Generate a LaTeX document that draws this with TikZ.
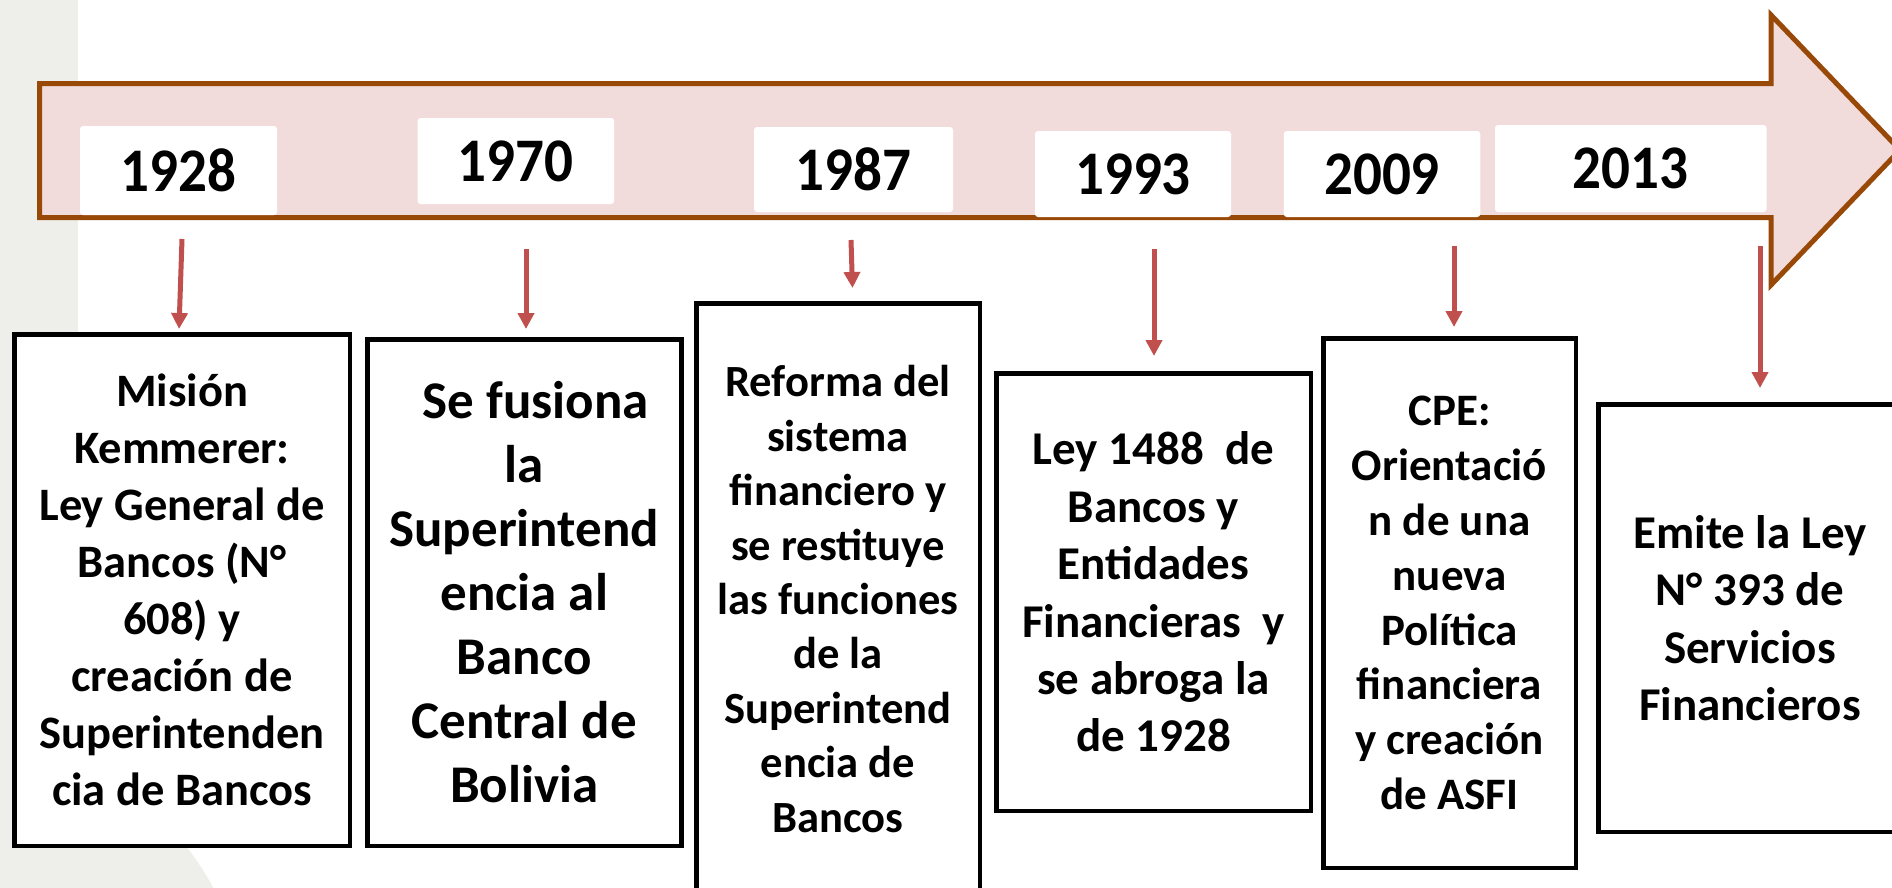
\documentclass[tikz,border=0pt]{standalone}
\usepackage{fontspec}
\setmainfont{Carlito}
\newfontfamily\yearfont[FakeStretch=0.92]{Carlito}
\usetikzlibrary{arrows.meta}
\definecolor{arrowfill}{RGB}{242,220,219}
\definecolor{arrowline}{RGB}{152,72,7}
\definecolor{conred}{RGB}{192,80,77}
\definecolor{sidegray}{RGB}{238,239,234}
\begin{document}
\begin{tikzpicture}[x=1pt,y=-1pt,
  yearbox/.style={fill=white, rounded corners=3pt, inner sep=0pt,
    font=\yearfont\bfseries\fontsize{62}{70}\selectfont},
  eventbox/.style={draw=black, line width=4.5pt, fill=white, inner sep=0pt, align=center},
  conn/.style={draw=conred, line width=5pt, -{Triangle[length=16pt,width=16pt]}}]
\useasboundingbox (0,0) rectangle (1892,887);
\clip (0,0) rectangle (1892,887);
\fill[white] (0,0) rectangle (1892,887);
% side decoration
\fill[sidegray] (0,0) rectangle (78,887);
\fill[sidegray] (-51,1030) circle[radius=300];
% timeline arrow
\draw[arrowline, fill=arrowfill, line width=5pt, miter limit=20]
  (39.5,83.5) -- (1771,83.5) -- (1771,15) -- (1900,150) -- (1771,285)
  -- (1771,217.5) -- (39.5,217.5) -- cycle;
% years
\node[yearbox, minimum width=197pt, minimum height=89pt] (y1) at (178.5,170.5) {1928};
\node[yearbox, minimum width=196.5pt, minimum height=86pt] (y2) at (515.8,161) {1970};
\node[yearbox, minimum width=199pt, minimum height=85pt] (y3) at (853.5,169.5) {1987};
\node[yearbox, minimum width=196pt, minimum height=86pt] (y4) at (1133,174) {1993};
\node[yearbox, minimum width=196.5pt, minimum height=86pt] (y5) at (1382,174) {2009};
\node[yearbox, minimum width=271.5pt, minimum height=87pt] (y6) at (1630.75,168.5) {2013};
% event boxes
\node[eventbox, minimum width=335.5pt, minimum height=511.5pt,
  font=\bfseries\fontsize{46.5}{57}\selectfont] (b1) at (182,590)
  {Misión\\Kemmerer:\\Ley General de\\Bancos (N°\\608) y\\creación de\\Superintenden\\cia de Bancos};
\node[eventbox, minimum width=314pt, minimum height=506.5pt,
  font=\bfseries\fontsize{53}{64}\selectfont] (b2) at (524.25,592.5)
  {\hspace*{23pt}Se fusiona\\la\\Superintend\\encia al\\Banco\\Central de\\Bolivia};
\node[eventbox, minimum width=283.5pt, minimum height=591.5pt,
  font=\bfseries\fontsize{44.6}{54.4}\selectfont] (b3) at (838,599)
  {Reforma del\\sistema\\financiero y\\se restituye\\las funciones\\de la\\Superintend\\encia de\\Bancos};
\node[eventbox, minimum width=314.5pt, minimum height=437.5pt,
  font=\bfseries\fontsize{47}{57.4}\selectfont] (b4) at (1153.5,592)
  {Ley 1488\ \ de\\Bancos y\\Entidades\\Financieras\ \ y\\se abroga la\\de 1928};
\node[eventbox, minimum width=252.5pt, minimum height=529.5pt,
  font=\bfseries\fontsize{45}{54.8}\selectfont] (b5) at (1449.5,603)
  {CPE:\\Orientació\\n de una\\nueva\\Política\\financiera\\y creación\\de ASFI};
\node[eventbox, minimum width=303.5pt, minimum height=427.5pt,
  font=\bfseries\fontsize{47}{57.5}\selectfont] (b6) at (1750,618)
  {Emite la Ley\\N° 393 de\\Servicios\\Financieros};
% connectors
\coordinate (s1) at (182,239);  \coordinate (e1) at (179,329);
\coordinate (s2) at (526,249);  \coordinate (e2) at (526,329);
\coordinate (s3) at (851,240);  \coordinate (e3) at (852.5,288);
\coordinate (s4) at (1154,249); \coordinate (e4) at (1154,356);
\coordinate (s5) at (1454,246); \coordinate (e5) at (1454,327);
\coordinate (s6) at (1760,246); \coordinate (e6) at (1760,388);
\draw[conn] (s1) -- (e1);
\draw[conn] (s2) -- (e2);
\draw[conn] (s3) -- (e3);
\draw[conn] (s4) -- (e4);
\draw[conn] (s5) -- (e5);
\draw[conn] (s6) -- (e6);
\end{tikzpicture}
\end{document}
